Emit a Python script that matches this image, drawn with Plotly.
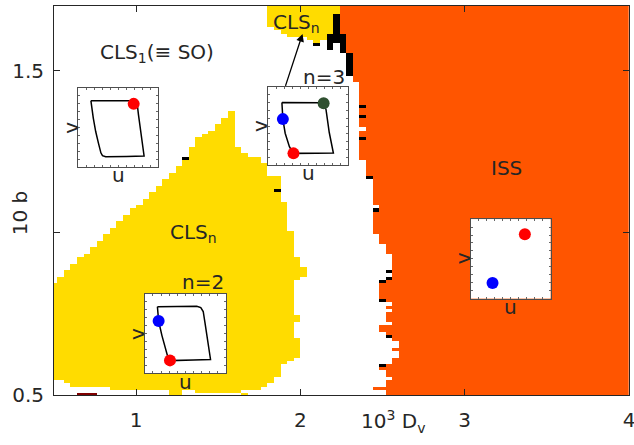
import numpy as np
import plotly.graph_objects as go

FONT = "DejaVu Sans"
INK = "#262626"

# ---------------------------------------------------------------------------
# Parameter scan grid: 10^3 D_v (columns) and 10 b (rows)
# ---------------------------------------------------------------------------
dv = np.round(np.arange(0.50, 4.0 + 1e-9, 0.04), 2)
b = np.round(np.arange(0.50, 1.70 + 1e-9, 0.01), 2)

WHITE, YELLOW, ORANGE, BLACK, DARKRED = 0, 1, 2, 3, 4

# Lower CLS_n region (n = 2): per D_v column, highest and lowest b
cls2_dv = [0.50, 0.54, 0.58, 0.62, 0.66, 0.70, 0.74, 0.78, 0.82, 0.86,
           0.90, 0.94, 0.98, 1.02, 1.06, 1.10, 1.14, 1.18, 1.22, 1.26,
           1.30, 1.34, 1.38, 1.42, 1.46, 1.50, 1.54, 1.58, 1.62, 1.66,
           1.70, 1.74, 1.78, 1.82, 1.86, 1.90, 1.94, 1.98, 2.02, 2.06]
cls2_b_top = [0.84, 0.86, 0.88, 0.90, 0.92, 0.93, 0.95, 0.97, 0.99, 1.01,
              1.03, 1.05, 1.07, 1.08, 1.10, 1.12, 1.14, 1.16, 1.18, 1.20,
              1.22, 1.26, 1.29, 1.30, 1.31, 1.33, 1.35, 1.37, 1.26, 1.24,
              1.23, 1.23, 1.21, 1.17, 1.17, 1.09, 1.00, 0.92, 0.89, 0.88]
cls2_b_bottom = [0.55, 0.55, 0.54, 0.53, 0.53, 0.53, 0.53, 0.53, 0.53, 0.52,
                 0.52, 0.52, 0.52, 0.52, 0.52, 0.52, 0.52, 0.52, 0.51, 0.51,
                 0.52, 0.52, 0.51, 0.51, 0.51, 0.51, 0.51, 0.51, 0.51, 0.52,
                 0.52, 0.52, 0.53, 0.53, 0.53, 0.53, 0.53, 0.53, 0.53, 0.53]
# right-hand rim of the n = 2 region: (b from, b to, D_v limit)
cls2_rim = [(1.10, 1.40, 1.88), (1.01, 1.09, 1.92), (0.93, 1.00, 1.96),
            (0.90, 0.92, 2.00), (0.87, 0.89, 2.04), (0.86, 0.86, 2.00),
            (0.75, 0.85, 1.96), (0.73, 0.74, 2.00), (0.68, 0.72, 1.96),
            (0.62, 0.67, 2.00), (0.61, 0.61, 1.96), (0.60, 0.60, 1.92),
            (0.56, 0.59, 1.88), (0.54, 0.55, 1.84), (0.52, 0.53, 1.80),
            (0.50, 0.51, 1.76)]

# Upper CLS_n region (n = 3): per D_v column, lowest b
cls3_dv = [1.82, 1.86, 1.90, 1.94, 1.98, 2.02, 2.06, 2.10, 2.14, 2.18, 2.22]
cls3_b_bottom = [1.64, 1.63, 1.62, 1.61, 1.61, 1.61, 1.60, 1.59, 1.60, 1.62, 1.68]

# ISS region: left boundary in D_v for each band of b
iss_edge = [(1.56, 1.70, 2.24), (1.49, 1.55, 2.28), (1.47, 1.48, 2.32),
            (1.33, 1.46, 2.36), (1.32, 1.32, 2.40), (1.23, 1.31, 2.36),
            (1.17, 1.22, 2.40), (1.09, 1.16, 2.44), (1.08, 1.08, 2.48),
            (1.00, 1.07, 2.44), (0.97, 0.99, 2.48), (0.94, 0.96, 2.52),
            (0.89, 0.93, 2.56), (0.88, 0.88, 2.52), (0.87, 0.87, 2.56),
            (0.86, 0.86, 2.52), (0.79, 0.85, 2.48), (0.78, 0.78, 2.56),
            (0.77, 0.77, 2.52), (0.76, 0.76, 2.56), (0.73, 0.75, 2.52),
            (0.72, 0.72, 2.56), (0.70, 0.71, 2.48), (0.68, 0.69, 2.52),
            (0.67, 0.67, 2.56), (0.65, 0.66, 2.60), (0.64, 0.64, 2.56),
            (0.62, 0.63, 2.60), (0.60, 0.61, 2.56), (0.58, 0.59, 2.48),
            (0.56, 0.57, 2.52), (0.55, 0.55, 2.56), (0.53, 0.54, 2.52),
            (0.52, 0.52, 2.44), (0.50, 0.51, 2.52)]

# Unresolved / chaotic points: (D_v, b from, b to)
other_cells = [(2.10, 1.58, 1.58), (2.18, 1.57, 1.61), (2.22, 1.59, 1.67),
               (2.26, 1.56, 1.61), (2.30, 1.49, 1.55), (2.38, 1.39, 1.39),
               (2.38, 1.36, 1.36), (2.38, 1.29, 1.29), (2.42, 1.17, 1.17),
               (2.46, 1.07, 1.07), (2.54, 0.88, 0.88), (2.54, 0.86, 0.86),
               (2.50, 0.85, 0.85), (2.50, 0.79, 0.79), (2.54, 0.68, 0.68),
               (2.50, 0.59, 0.59), (1.30, 1.23, 1.23), (1.86, 1.13, 1.13)]

# lowest b row: isolated states
edge_row_darkred = [0.66, 0.70, 0.74]
edge_row_yellow = [1.22, 1.26, 1.66]

# ---------------------------------------------------------------------------
# Phase-space insets (u, v normalised to the inset box)
# ---------------------------------------------------------------------------
loop1_u = [0.155, 0.40, 0.66, 0.71, 0.735, 0.75, 0.775, 0.80, 0.82, 0.60,
           0.34, 0.30, 0.28, 0.25, 0.215, 0.185, 0.165, 0.155]
loop1_v = [0.84, 0.84, 0.838, 0.825, 0.79, 0.66, 0.45, 0.26, 0.14, 0.135,
           0.13, 0.145, 0.18, 0.30, 0.45, 0.62, 0.75, 0.84]
loop1_dots = ([0.69], [0.80], ["#ff0000"])

loop3_u = [0.168, 0.45, 0.66, 0.69, 0.72, 0.76, 0.785, 0.812, 0.60, 0.31,
           0.262, 0.209, 0.18, 0.172, 0.168]
loop3_v = [0.80, 0.80, 0.797, 0.785, 0.71, 0.42, 0.28, 0.155, 0.152, 0.15,
           0.236, 0.408, 0.588, 0.70, 0.80]
loop3_dots = ([0.69, 0.18, 0.3125], [0.79, 0.588, 0.15],
              ["#2f5030", "#0000ff", "#ff0000"])

loop2_u = [0.155, 0.45, 0.64, 0.69, 0.72, 0.74, 0.77, 0.79, 0.81, 0.60,
           0.31, 0.28, 0.247, 0.21, 0.17, 0.16, 0.155]
loop2_v = [0.84, 0.845, 0.845, 0.83, 0.78, 0.65, 0.45, 0.30, 0.177, 0.17,
           0.162, 0.22, 0.337, 0.48, 0.66, 0.75, 0.84]
loop2_dots = ([0.17, 0.31], [0.66, 0.165], ["#0000ff", "#ff0000"])

iss_dots = ([0.678, 0.272], [0.81, 0.197], ["#ff0000", "#0000ff"])

# ---------------------------------------------------------------------------
# Build the state map
# ---------------------------------------------------------------------------
eps = 1e-6
z = np.full((len(b), len(dv)), WHITE, dtype=int)


def band(lo, hi):
    return (b >= lo - eps) & (b <= hi + eps)


def col(x):
    return int(np.argmin(np.abs(dv - x)))


rim = np.full(len(b), -np.inf)
for lo, hi, lim in cls2_rim:
    rim[band(lo, hi)] = lim
for x0, top, bot in zip(cls2_dv, cls2_b_top, cls2_b_bottom):
    z[band(bot, top) & (x0 < rim), col(x0)] = YELLOW

for x0, bot in zip(cls3_dv, cls3_b_bottom):
    z[b >= bot - eps, col(x0)] = YELLOW

for lo, hi, edge in iss_edge:
    z[np.ix_(band(lo, hi), dv > edge + eps)] = ORANGE

for x0, lo, hi in other_cells:
    z[band(lo, hi), col(x0)] = BLACK

for x0 in edge_row_darkred:
    z[0, col(x0)] = DARKRED
for x0 in edge_row_yellow:
    z[0, col(x0)] = YELLOW

palette = ["#ffffff", "#ffdc00", "#ff5500", "#000000", "#7f0000"]
scale = []
for k, c in enumerate(palette):
    scale += [[k / len(palette), c], [(k + 1) / len(palette), c]]

fig = go.Figure()
fig.add_trace(go.Heatmap(x=dv, y=b, z=z, zmin=-0.5, zmax=len(palette) - 0.5,
                         colorscale=scale, showscale=False, zsmooth=False,
                         hoverinfo="skip"))

# ---------------------------------------------------------------------------
# Insets
# ---------------------------------------------------------------------------
insets = [
    ("2", [0.0426, 0.1817], [0.586, 0.789], loop1_u, loop1_v, loop1_dots),
    ("3", [0.373, 0.512], [0.591, 0.792], loop3_u, loop3_v, loop3_dots),
    ("4", [0.158, 0.299], [0.0553, 0.2596], loop2_u, loop2_v, loop2_dots),
    ("5", [0.725, 0.8635], [0.248, 0.452], None, None, iss_dots),
]

inset_axis = dict(range=[0, 1], showgrid=False, zeroline=False,
                  showticklabels=False, ticks="inside", ticklen=2,
                  tickwidth=1, tickcolor="#666666", tick0=0, dtick=0.1,
                  showline=True, linecolor="#4d4d4d", linewidth=1,
                  mirror="ticks", fixedrange=True, automargin=False)

annotations = []
LABEL_GAP = 0.105  # distance of the u / v labels from the inset frame
for k, xd, yd, lu, lv, dots in insets:
    fig.add_trace(go.Scatter(x=[0, 1, 1, 0, 0], y=[0, 0, 1, 1, 0],
                             xaxis="x" + k, yaxis="y" + k, mode="lines",
                             fill="toself", fillcolor="white",
                             line=dict(width=0), hoverinfo="skip",
                             showlegend=False))
    if lu is not None:
        fig.add_trace(go.Scatter(x=lu, y=lv, xaxis="x" + k, yaxis="y" + k,
                                 mode="lines", line=dict(color="black", width=1.5),
                                 hoverinfo="skip", showlegend=False))
    fig.add_trace(go.Scatter(x=dots[0], y=dots[1], xaxis="x" + k, yaxis="y" + k,
                             mode="markers",
                             marker=dict(color=dots[2], size=12, line=dict(width=0)),
                             hoverinfo="skip", showlegend=False))
    fig.layout["xaxis" + k] = dict(domain=xd, anchor="y" + k, **inset_axis)
    fig.layout["yaxis" + k] = dict(domain=yd, anchor="x" + k, **inset_axis)
    w, h = xd[1] - xd[0], yd[1] - yd[0]
    annotations.append(dict(text="u", xref="paper", yref="paper",
                            x=xd[0] + 0.5 * w, y=yd[0] - LABEL_GAP * h,
                            showarrow=False, xanchor="center", yanchor="middle"))
    annotations.append(dict(text="v", xref="paper", yref="paper",
                            x=xd[0] - LABEL_GAP * w, y=yd[0] + 0.5 * h,
                            textangle=-90, showarrow=False,
                            xanchor="center", yanchor="middle"))

# region labels
labels = [
    ("CLS<sub>1</sub>(\u2261 SO)", 1.127, 1.555),
    ("CLS<sub>n</sub>", 1.35, 1.0),
    ("n=2", 1.404, 0.849),
    ("n=3", 2.143, 1.482),
    ("ISS", 3.257, 1.20),
    ("CLS<sub>n</sub>", 1.975, 1.648),
]
for text, x, y in labels:
    annotations.append(dict(text=text, xref="x", yref="y", x=x, y=y,
                            showarrow=False, xanchor="center", yanchor="middle"))

# arrow from the n = 3 inset to the upper CLS_n region
annotations.append(dict(text="", xref="x", yref="y", x=2.013, y=1.614,
                        axref="x", ayref="y", ax=1.906, ay=1.449,
                        showarrow=True, arrowhead=2, arrowsize=1.2,
                        arrowwidth=1.3, arrowcolor="black"))

# axis titles
annotations.append(dict(text="10<sup>3</sup> D<sub>v</sub>", xref="x", yref="paper",
                        x=2.563, y=-0.068, showarrow=False,
                        xanchor="center", yanchor="middle"))
annotations.append(dict(text="10 b", xref="paper", yref="y", x=-0.059, y=1.061,
                        textangle=-90, showarrow=False,
                        xanchor="center", yanchor="middle"))

for a in annotations:
    a["font"] = dict(family=FONT, size=20, color=INK)

main_axis = dict(showgrid=False, zeroline=False, ticks="inside", ticklen=6,
                 tickwidth=1, tickcolor=INK, showline=True, linecolor=INK,
                 linewidth=1, mirror="ticks", ticklabeloverflow="allow",
                 automargin=False,
                 tickfont=dict(family=FONT, size=20, color=INK))

fig.update_layout(
    width=634, height=445,
    margin=dict(l=54, r=5, t=6, b=50, autoexpand=False),
    paper_bgcolor="white", plot_bgcolor="white",
    showlegend=False,
    font=dict(family=FONT, size=20, color=INK),
    xaxis=dict(range=[0.5, 4.0], tickvals=[1, 2, 3, 4], ticklabelstandoff=7,
               domain=[0, 1], **main_axis),
    yaxis=dict(range=[0.5, 1.7], tickvals=[0.5, 1, 1.5],
               ticktext=["0.5", "", "1.5"], ticklabelstandoff=5,
               domain=[0, 1], **main_axis),
    annotations=annotations,
)

fig.write_html("out.html")
